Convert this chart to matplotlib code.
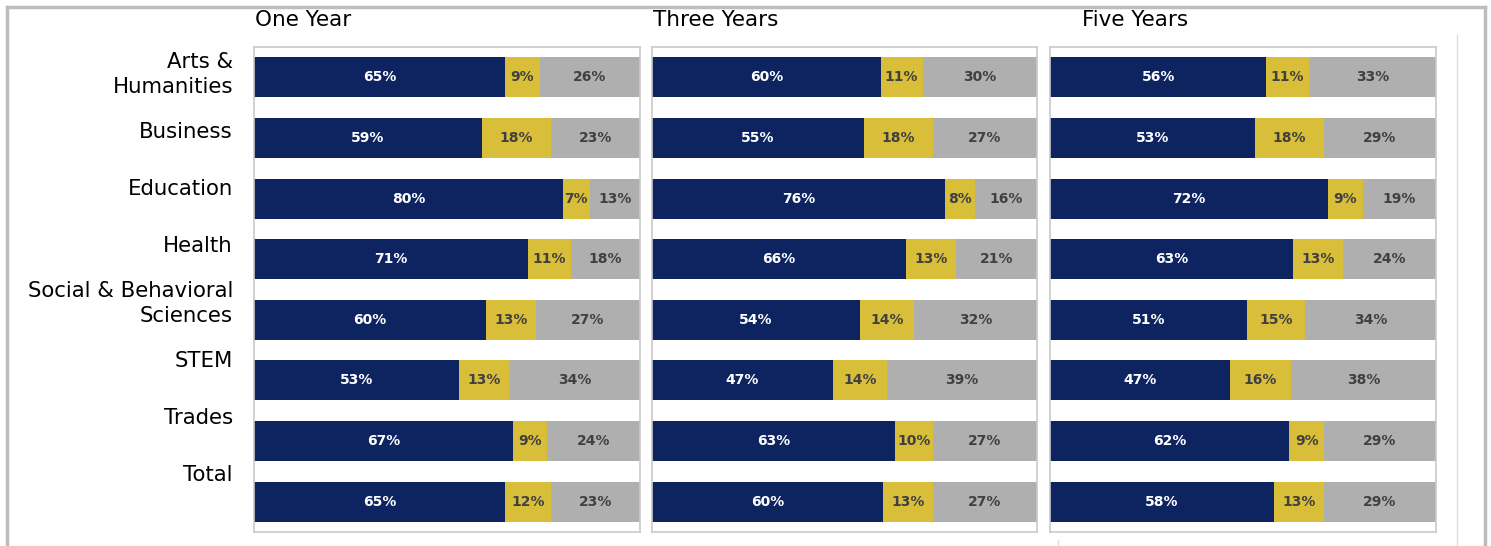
import numpy as np
import matplotlib.pyplot as plt
from matplotlib.lines import Line2D

plt.rcParams['font.family'] = ['DejaVu Sans']

# -- data --
categories = ['Arts &\nHumanities', 'Business', 'Education', 'Health',
              'Social & Behavioral\nSciences', 'STEM', 'Trades', 'Total']
periods = ['One Year', 'Three Years', 'Five Years']

# first segment / middle segment / last segment (percent)
navy_vals = [
    [65, 59, 80, 71, 60, 53, 67, 65],
    [60, 55, 76, 66, 54, 47, 63, 60],
    [56, 53, 72, 63, 51, 47, 62, 58],
]
gold_vals = [
    [9, 18, 7, 11, 13, 13, 9, 12],
    [11, 18, 8, 13, 14, 14, 10, 13],
    [11, 18, 9, 13, 15, 16, 9, 13],
]
gray_vals = [
    [26, 23, 13, 18, 27, 34, 24, 23],
    [30, 27, 16, 21, 32, 39, 27, 27],
    [33, 29, 19, 24, 34, 38, 29, 29],
]

NAVY = '#0D2461'
GOLD = '#D9BE3A'
GRAY = '#AFAFAF'
FRAME = '#C9C9C9'
DARK_TXT = '#404040'

W, H = 1491, 546
fig = plt.figure(figsize=(W / 100, H / 100), dpi=100)

def fx(px):
    return px / W

def fy(py):
    return 1 - py / H

# panel pixel extents (left, right)
panel_x = [(254, 640), (652, 1037), (1050, 1436)]
panel_top, panel_bot = 47, 532
title_x = [255, 653, 1082]

y = np.arange(len(categories))
for k, (x0, x1) in enumerate(panel_x):
    ax = fig.add_axes([fx(x0), fy(panel_bot), fx(x1 - x0), (panel_bot - panel_top) / H])
    n = np.array(navy_vals[k], float)
    g = np.array(gold_vals[k], float)
    r = np.array(gray_vals[k], float)
    tot = n + g + r
    sn, sg, sr = n / tot * 100, g / tot * 100, r / tot * 100
    ax.barh(y, sn, height=0.66, color=NAVY, linewidth=0)
    ax.barh(y, sg, left=sn, height=0.66, color=GOLD, linewidth=0)
    ax.barh(y, sr, left=sn + sg, height=0.66, color=GRAY, linewidth=0)
    for i in range(len(y)):
        ax.text(sn[i] / 2, y[i], f'{int(n[i])}%', ha='center', va='center',
                color='white', fontsize=10, fontweight='bold')
        ax.text(sn[i] + sg[i] / 2, y[i], f'{int(g[i])}%', ha='center', va='center',
                color=DARK_TXT, fontsize=10, fontweight='bold')
        ax.text(sn[i] + sg[i] + sr[i] / 2, y[i], f'{int(r[i])}%', ha='center',
                va='center', color=DARK_TXT, fontsize=10, fontweight='bold')
    ax.set_xlim(0, 100)
    ax.set_ylim(len(y) - 0.5, -0.5)
    ax.set_xticks([])
    ax.set_yticks([])
    for s in ax.spines.values():
        s.set_color(FRAME)
        s.set_linewidth(1.2)
    fig.text(fx(title_x[k]), fy(20), periods[k], ha='left', va='center',
             fontsize=15.5, color='black')

# category labels sit in their own column, slightly tighter than the bars
lab_ax = fig.add_axes([fx(0), fy(504), fx(233), (504 - 46) / H])
lab_ax.set_xlim(0, 1)
lab_ax.set_ylim(len(categories) - 0.5, -0.5)
lab_ax.axis('off')
for i, c in enumerate(categories):
    lab_ax.text(1, i, c, ha='right', va='center', fontsize=15.3,
                color='black', linespacing=1.35)

# outer frame and stray guide lines
fig.add_artist(Line2D([fx(7), fx(7)], [fy(7), 0], color='#BDBDBD', lw=2.5))
fig.add_artist(Line2D([fx(7), fx(1485)], [fy(7), fy(7)], color='#BDBDBD', lw=2.5))
fig.add_artist(Line2D([fx(1485), fx(1485)], [fy(7), 0], color='#BDBDBD', lw=2.5))
fig.add_artist(Line2D([fx(1457), fx(1457)], [fy(35), 0], color='#DDDDDD', lw=1))
fig.add_artist(Line2D([fx(1058), fx(1058)], [fy(540), 0], color='#DDDDDD', lw=1))

fig.savefig('out.png', dpi=100)
